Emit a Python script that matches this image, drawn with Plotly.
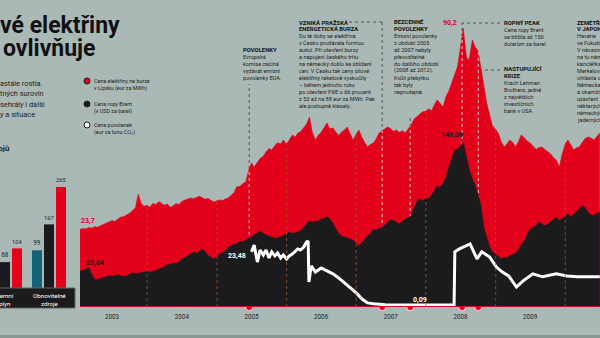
import plotly.graph_objects as go
from datetime import datetime

# ---------------------------------------------------------------- data
# semi-monthly sampling dates (1st and 15th), Jan 2003 - Jul 2010
DATES = [f"{y}-{m:02d}-{d:02d}" for y in range(2003, 2011) for m in range(1, 13) for d in (1, 15)][:181]

# power price on the Leipzig exchange (EUR/MWh)
ELEC = [
    # 2003
    23.7, 23.9, 24.2, 24.0, 24.5, 24.3, 24.8, 24.6, 25.1, 25.6, 26.0, 26.4,
    26.8, 26.5, 27.4, 27.9, 28.1, 28.6, 29.2, 30.0, 31.0, 35.5, 32.4, 31.5,
    # 2004
    31.8, 31.2, 32.5, 32.0, 33.0, 32.6, 31.8, 32.3, 31.2, 31.6, 32.4, 32.0,
    33.1, 33.5, 33.8, 34.2, 34.0, 34.5, 34.8, 34.3, 33.8, 34.1, 33.3, 32.9,
    # 2005
    33.3, 33.6, 33.4, 34.0, 34.2, 35.0, 36.0, 37.9, 38.0, 38.9, 39.5, 43.0,
    45.8, 44.4, 46.0, 47.2, 48.0, 49.4, 50.5, 50.0, 51.5, 52.4, 52.0, 53.3,
    # 2006
    52.0, 53.5, 55.0, 54.2, 55.6, 56.0, 57.2, 58.5, 60.9, 56.0, 53.3, 54.8,
    55.8, 57.4, 58.9, 57.0, 57.3, 56.0, 54.8, 55.9, 56.6, 57.6, 55.0, 53.3,
    # 2007
    55.2, 56.6, 54.0, 52.3, 51.0, 51.8, 52.3, 53.6, 55.6, 56.3, 57.0, 57.6,
    57.0, 56.2, 56.6, 55.8, 56.4, 55.6, 57.0, 58.2, 60.2, 61.0, 62.0, 62.6,
    # 2008
    62.8, 63.5, 63.0, 65.0, 66.5, 65.5, 64.2, 67.5, 69.5, 72.0, 75.0, 77.4,
    84.0, 90.2, 80.5, 79.7, 86.2, 84.0, 82.5, 77.4, 70.0, 65.5, 61.5, 58.0,
    # 2009
    56.8, 55.5, 52.5, 51.0, 52.0, 53.3, 52.5, 51.0, 52.8, 55.0, 54.0, 53.0,
    52.3, 51.2, 50.2, 50.8, 51.0, 50.2, 49.5, 48.8, 47.5, 46.7, 44.4, 48.5,
    # 2010
    52.0, 53.3, 51.5, 50.0, 50.8, 51.0, 52.5, 53.8, 54.3, 54.0, 53.3, 54.5, 55.6,
]

# Brent crude (USD/bbl)
OIL = [
    # 2003
    25.84, 26.5, 27.7, 28.5, 30.5, 24.0, 19.0, 18.4, 19.8, 20.5, 21.5, 22.4,
    21.8, 22.6, 23.0, 22.3, 21.6, 22.1, 23.5, 25.0, 24.2, 24.8, 25.5, 25.8,
    # 2004
    26.2, 25.6, 26.0, 26.9, 28.5, 29.2, 30.4, 33.0, 32.5, 34.1, 33.6, 35.2,
    37.8, 38.7, 40.5, 42.0, 44.3, 43.0, 45.5, 47.1, 44.5, 41.0, 39.5, 37.8,
    # 2005
    40.0, 42.4, 44.0, 45.5, 48.5, 49.9, 52.0, 51.2, 54.5, 53.5, 55.2, 56.3,
    58.5, 60.2, 62.0, 63.7, 61.5, 60.0, 59.1, 58.0, 57.0, 57.8, 58.2, 60.0,
    # 2006
    61.0, 62.8, 61.5, 62.2, 63.0, 63.7, 67.5, 70.5, 73.0, 71.8, 73.2, 72.5,
    74.9, 75.5, 76.7, 75.0, 71.0, 66.0, 61.5, 59.1, 58.2, 57.0, 56.3, 55.0,
    # 2007
    52.0, 49.9, 53.5, 56.8, 59.1, 61.0, 65.6, 64.5, 66.0, 67.5, 69.0, 71.5,
    74.9, 73.5, 71.5, 70.2, 73.0, 75.0, 76.0, 77.6, 85.0, 91.0, 93.4, 91.5,
    # 2008
    94.0, 93.4, 97.0, 101.0, 105.5, 104.0, 108.0, 113.0, 124.0, 131.0, 138.7, 139.5,
    142.0, 146.08, 132.2, 121.0, 111.8, 106.0, 97.0, 88.0, 66.0, 58.0, 49.0, 44.3,
    # 2009
    42.0, 40.5, 37.8, 39.5, 38.5, 40.6, 41.8, 43.0, 46.5, 51.0, 55.0, 60.0,
    65.6, 67.0, 69.0, 72.1, 70.5, 68.5, 70.2, 72.0, 74.0, 76.5, 73.5, 74.9,
    # 2010
    77.5, 79.5, 77.0, 79.5, 82.0, 84.0, 86.9, 85.5, 81.0, 78.5, 77.6, 80.0, 81.3,
]

# EU emission allowance price (EUR/t CO2)
CO2_DATES = [
    "2005-07-01", "2005-07-15", "2005-08-01", "2005-08-15", "2005-09-01", "2005-09-15",
    "2005-10-01", "2005-10-15", "2005-11-01", "2005-11-15", "2005-12-01", "2005-12-15",
    "2006-01-01", "2006-01-15", "2006-02-01", "2006-02-15", "2006-03-01", "2006-03-15",
    "2006-04-01", "2006-04-15", "2006-04-24", "2006-04-28", "2006-05-10", "2006-06-01",
    "2006-07-01", "2006-08-01", "2006-09-01", "2006-10-01", "2006-11-01", "2006-12-01",
    "2007-01-01", "2007-02-01", "2007-03-01", "2007-04-01", "2007-06-01", "2007-09-01",
    "2007-12-20", "2008-05-28", "2008-06-01", "2008-06-25", "2008-08-20", "2008-09-25",
    "2008-10-20", "2008-12-01", "2009-01-05", "2009-02-05", "2009-03-10", "2009-04-20",
    "2009-05-25", "2009-07-15", "2009-09-05", "2009-11-15", "2010-01-10", "2010-03-05",
    "2010-05-05", "2010-07-01",
]
CO2 = [
    23.48, 26.5, 19.0, 24.3, 22.1, 24.3,
    20.8, 23.5, 21.7, 23.0, 20.8, 22.1,
    20.4, 21.7, 22.6, 23.5, 24.8, 24.3,
    25.6, 27.8, 28.3, 10.2, 17.3, 14.6,
    16.4, 15.1, 13.8, 12.0, 9.8, 7.6,
    5.4, 2.7, 1.0, 0.6, 0.2, 0.09,
    0.05, 0.05, 23.5, 24.8, 27.0, 20.4,
    23.5, 21.2, 16.8, 14.6, 12.9, 8.0,
    10.7, 13.8, 12.5, 13.8, 12.9, 12.5,
    12.5, 12.5,
]

EVENT_DATES = ["2005-06-19", "2007-05-17", "2007-10-11", "2008-07-09", "2008-10-02"]

YEAR_LABELS = [str(y) for y in range(2003, 2011)]
YEAR_TICKS = [f"{y}-07-01" for y in range(2003, 2011)]
YEAR_STARTS = [f"{y}-01-01" for y in range(2004, 2011)]

BAR_GROUPS = ["Zemní plyn", "Obnovitelné zdroje"]
BAR_TEAL = [None, 99]
BAR_BLACK = [68, 167]
BAR_RED = [104, 265]

NOTES = [
    (["POVOLENKY"], ["Evropská", "komise začíná", "vydávat emisní", "povolenky EUA."]),
    (["VZNIKÁ PRAŽSKÁ", "ENERGETICKÁ BURZA"],
     ["Do té doby se elektřina", "v Česku prodávala formou", "aukcí. Při otevření burzy",
      "a napojení českého trhu", "na německý došlo ke sbližení", "cen. V Česku tak ceny silové",
      "elektřiny raketově vyskočily", "– během jednoho roku", "po otevření PXE o 66 procent",
      "z 53 až na 88 eur za MWh. Pak", "ale postupně klesaly."]),
    (["BEZCENNÉ", "POVOLENKY"],
     ["Emisní povolenky", "z období 2005", "až 2007 nebyly", "převoditelné", "do dalšího období",
      "(2008 až 2012).", "Kvůli přebytku", "tak byly", "neprodejné."]),
    (["ROPNÝ PEAK"], ["Cena ropy Brent", "se blížila až 150", "dolarům za barel."]),
    (["NASTUPUJÍCÍ", "KRIZE"], ["Krach Lehman", "Brothers, jedné", "z největších", "investičních", "bank v USA."]),
    (["ZEMĚTŘESENÍ", "V JAPONSKU"],
     ["Havárie", "ve Fukušimě.", "V návaznosti", "na to německá", "kancléřka", "Merkelová",
      "ohlásila odchod", "Německa – od jádra", "a okamžité", "uzavření", "některých", "německých",
      "jaderných elektráren."]),
]

# ---------------------------------------------------------------- styling / geometry
W, H = 600, 338
BG = "#aab9b6"
RED = "#e2001a"
INK = "#1b1b1d"
TEAL = "#14627b"
FONT = "Roboto"

X_RANGE = ["2003-01-14", "2010-07-02"]
ELEC_RANGE = [-1.65, 99.4]
OIL_RANGE = [-6.57, 277.4]
CO2_RANGE = [-0.79, 134.4]
PLOT_LEFT, PLOT_BOTTOM = 80, 307


def px(x):
    return x / W


def py(y):
    return 1 - y / H


T0, T1 = datetime.fromisoformat(X_RANGE[0]), datetime.fromisoformat(X_RANGE[1])


def date_to_paper(s):
    f = (datetime.fromisoformat(s) - T0) / (T1 - T0)
    return px(PLOT_LEFT) + f * (1 - px(PLOT_LEFT))


def elec_at(s):
    """Height of the red area at date s (for clipping the light guide lines)."""
    d = datetime.fromisoformat(s)
    stamps = [datetime.fromisoformat(t) for t in DATES]
    i = max(k for k, t in enumerate(stamps) if t <= d)
    f = (d - stamps[i]) / (stamps[i + 1] - stamps[i])
    return ELEC[i] + (ELEC[i + 1] - ELEC[i]) * f


fig = go.Figure()

# electricity area (red)
fig.add_trace(go.Scatter(x=DATES, y=[ELEC_RANGE[0]] * len(DATES), mode="lines",
                         line=dict(width=0), yaxis="y", hoverinfo="skip", showlegend=False))
fig.add_trace(go.Scatter(x=DATES, y=ELEC, mode="lines", fill="tonexty", fillcolor=RED,
                         line=dict(color=RED, width=0.6), yaxis="y", showlegend=False))
# oil area (black)
fig.add_trace(go.Scatter(x=DATES, y=[OIL_RANGE[0]] * len(DATES), mode="lines",
                         line=dict(width=0), yaxis="y2", hoverinfo="skip", showlegend=False))
fig.add_trace(go.Scatter(x=DATES, y=OIL, mode="lines", fill="tonexty", fillcolor=INK,
                         line=dict(color=INK, width=0.6), yaxis="y2", showlegend=False))
# allowance price (white line)
fig.add_trace(go.Scatter(x=CO2_DATES, y=CO2, mode="lines", line=dict(color="white", width=3),
                         yaxis="y3", showlegend=False))

# event markers: light dashed guide inside the areas + dot on the baseline
for d in EVENT_DATES:
    fig.add_trace(go.Scatter(x=[d, d], y=[ELEC_RANGE[0], elec_at(d)], mode="lines",
                             line=dict(color="#d4d4d4", width=1, dash="dot"), yaxis="y",
                             showlegend=False, hoverinfo="skip"))
fig.add_trace(go.Scatter(x=EVENT_DATES, y=[ELEC_RANGE[0]] * len(EVENT_DATES), mode="markers",
                         marker=dict(color=RED, size=7, line=dict(color="#f3c9cc", width=1.2)),
                         yaxis="y", cliponaxis=False, showlegend=False))

# cost comparison bars (left)
for vals, col in [(BAR_TEAL, TEAL), (BAR_BLACK, INK), (BAR_RED, RED)]:
    fig.add_trace(go.Bar(x=BAR_GROUPS, y=vals, marker=dict(color=col, line=dict(width=0)),
                         text=[(None if v is None else str(v)) for v in vals], textposition="outside",
                         textfont=dict(family=FONT, size=6.3, color="#222"), cliponaxis=False,
                         xaxis="x2", yaxis="y4", showlegend=False))

shapes = []
# year boundaries inside the red area
for d in YEAR_STARTS:
    i = DATES.index(d)
    shapes.append(dict(type="line", xref="x", yref="y", x0=d, x1=d, y0=ELEC_RANGE[0], y1=ELEC[i],
                       line=dict(color="rgba(170,85,25,0.75)", width=1, dash="dot"), layer="above"))

# dark guides from notes down to the events (visible above the areas)
guide_tops = [84, 22, 117, 23, 70]
for d, top in zip(EVENT_DATES, guide_tops):
    xp = date_to_paper(d)
    shapes.append(dict(type="line", xref="paper", yref="paper", x0=xp, x1=xp, y0=py(PLOT_BOTTOM),
                       y1=py(top), line=dict(color="#4d5553", width=1, dash="dot"), layer="below"))
for d, y, x_start in [(EVENT_DATES[1], 22, 349), (EVENT_DATES[3], 23, 500), (EVENT_DATES[4], 70, 500)]:
    shapes.append(dict(type="line", xref="paper", yref="paper", x0=px(x_start), x1=date_to_paper(d),
                       y0=py(y), y1=py(y), line=dict(color="#4d5553", width=1, dash="dot"), layer="below"))

# baseline, bottom rule, category box
shapes.append(dict(type="line", xref="paper", yref="paper", x0=px(PLOT_LEFT), x1=1,
                   y0=py(PLOT_BOTTOM - 0.5), y1=py(PLOT_BOTTOM - 0.5), line=dict(color=RED, width=1.2),
                   layer="above"))
shapes.append(dict(type="rect", xref="paper", yref="paper", x0=0, x1=1, y0=py(338), y1=py(335),
                   fillcolor="#8b9996", line=dict(width=0)))
shapes.append(dict(type="rect", xref="paper", yref="paper", x0=-0.01, x1=px(75), y0=py(308), y1=py(288),
                   fillcolor=INK, line=dict(color="#5b6664", width=1)))

# legend dots
legend = [
    (81, RED, INK, "Cena elektřiny na burze", "v Lipsku (eur za MWh)"),
    (104, INK, INK, "Cena ropy Brent", "(v USD za barel)"),
    (125, "white", INK, "Cena povolenek", "(eur za tunu CO<sub>2</sub>)"),
]
for y, fill, edge, _, _ in legend:
    shapes.append(dict(type="circle", xref="paper", yref="paper", x0=px(84), x1=px(90),
                       y0=py(y + 3), y1=py(y - 3), fillcolor=fill, line=dict(color=edge, width=1)))

annotations = []


def text(x, y, s, size=5.6, color=INK, bold=False, anchor="left", xref="paper"):
    annotations.append(dict(
        xref=xref, yref="paper", x=(x if xref != "paper" else px(x)), y=py(y),
        text=(f"<b>{s}</b>" if bold else s), showarrow=False, xanchor=anchor, yanchor="middle",
        font=dict(family=FONT, size=size, color=color), borderpad=0))


# headline and intro fragments on the left
annotations.append(dict(xref="paper", yref="paper", x=px(-1), y=py(25), text="<b>vé elektřiny</b>",
                        showarrow=False, xanchor="left", yanchor="middle", borderpad=0,
                        font=dict(family=FONT, size=23, color="#111", weight=900)))
annotations.append(dict(xref="paper", yref="paper", x=px(2), y=py(48), text="<b>ovlivňuje</b>",
                        showarrow=False, xanchor="left", yanchor="middle", borderpad=0,
                        font=dict(family=FONT, size=23, color="#111", weight=900)))
for y, s in zip([83, 93.5, 104, 114.5], ["astále rostla.", "tných surovin", "sehrály i další", "y a situace"]):
    text(-1, y, s, size=7.4, color="#222")
text(11, 149, "zdrojů", size=8, bold=True, anchor="right")

for y, _, _, l1, l2 in legend:
    text(93, y, l1, size=5.4, color="#222")
    text(93, y + 7.5, l2, size=5.4, color="#222")

# category captions under the bars
for i, g in enumerate(BAR_GROUPS):
    text(i, 300, g.replace(" ", "<br>"), size=6.2, color="white", anchor="center", xref="x2")

# notes
note_pos = [(242, 50), (298, 22), (393, 22), (503, 23), (503, 69), (576, 22)]
for (head, body), (x, y) in zip(NOTES, note_pos):
    for line in head:
        text(x, y, line, size=5.9, bold=True, color="#111")
        y += 7
    for line in body:
        text(x, y, line, size=5.6, color="#1e1e1e")
        y += 7

# value call-outs
text(80, 221, "23,7", size=7, bold=True, color=RED)
text(85, 263, "25,84", size=7, bold=True, color=INK)
text(247, 256, "23,48", size=7, bold=True, color="white", anchor="right")
text(420, 300, "0,09", size=7, bold=True, color="white", anchor="center")
text(458, 23, "90,2", size=7, bold=True, color=RED, anchor="right")
text(452, 135, "146,08", size=7, bold=True, color=INK, anchor="center")

fig.update_layout(
    width=W, height=H, margin=dict(l=0, r=0, t=0, b=0),
    paper_bgcolor=BG, plot_bgcolor="rgba(0,0,0,0)",
    barmode="group", bargap=0.182, bargroupgap=0.167,
    xaxis=dict(domain=[px(PLOT_LEFT), 1], range=X_RANGE, type="date", showgrid=False, zeroline=False,
               showline=False, tickvals=YEAR_TICKS, ticktext=YEAR_LABELS, ticks="",
               tickfont=dict(family=FONT, size=6.3, color="#222"), ticklabelstandoff=5),
    yaxis=dict(domain=[py(PLOT_BOTTOM), 1], range=ELEC_RANGE, visible=False),
    yaxis2=dict(overlaying="y", range=OIL_RANGE, visible=False),
    yaxis3=dict(overlaying="y", range=CO2_RANGE, visible=False),
    xaxis2=dict(domain=[0, px(75)], anchor="y4", type="category", range=[-0.1136, 1.5909], visible=False),
    yaxis4=dict(domain=[py(288), py(180)], anchor="x2", range=[0, 283.5], visible=False),
    shapes=shapes, annotations=annotations, showlegend=False,
)

fig.write_html("out.html")
